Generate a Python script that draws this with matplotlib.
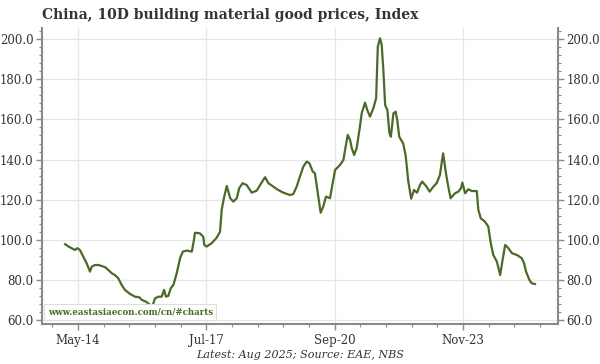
import matplotlib
matplotlib.use("Agg")
import matplotlib.pyplot as plt
import matplotlib.dates as mdates
import numpy as np
import pandas as pd

# 10-day index
dates = [
    "2014-01-05", "2014-02-05", "2014-03-05", "2014-04-04", "2014-04-25", "2014-05-18",
    "2014-06-17", "2014-07-18", "2014-08-17", "2014-09-02", "2014-10-01", "2014-11-01",
    "2014-12-01", "2015-01-01", "2015-01-30", "2015-03-01", "2015-03-30", "2015-04-29",
    "2015-05-29", "2015-06-28", "2015-08-13", "2015-09-27", "2015-11-05", "2015-11-27",
    "2016-01-05", "2016-02-10", "2016-02-25", "2016-03-25", "2016-04-24", "2016-05-24",
    "2016-06-15", "2016-07-02", "2016-07-23", "2016-08-14", "2016-09-07", "2016-10-07",
    "2016-11-06", "2016-12-01", "2017-01-06", "2017-02-20", "2017-03-11", "2017-03-20",
    "2017-05-04", "2017-06-03", "2017-06-12", "2017-07-03", "2017-08-18", "2017-10-02",
    "2017-11-01", "2017-11-16", "2017-12-07", "2018-01-01", "2018-02-01", "2018-03-01",
    "2018-04-01", "2018-04-23", "2018-05-23", "2018-06-29", "2018-08-14", "2018-09-28",
    "2018-10-28", "2018-12-12", "2019-01-11", "2019-02-25", "2019-04-10", "2019-05-25",
    "2019-07-24", "2019-08-23", "2019-09-23", "2019-10-22", "2019-11-22", "2019-12-22",
    "2020-01-15", "2020-02-15", "2020-03-05", "2020-04-05", "2020-04-26", "2020-05-19",
    "2020-06-13", "2020-07-19", "2020-08-18", "2020-09-03", "2020-10-18", "2020-11-17",
    "2020-12-02", "2020-12-26", "2021-01-16", "2021-02-01", "2021-02-22", "2021-03-16",
    "2021-04-15", "2021-05-01", "2021-05-31", "2021-06-20", "2021-07-15", "2021-08-14",
    "2021-09-08", "2021-09-23", "2021-10-13", "2021-10-28", "2021-11-12", "2021-11-28",
    "2021-12-18", "2022-01-06", "2022-01-19", "2022-02-11", "2022-03-03", "2022-03-17",
    "2022-04-04", "2022-05-10", "2022-06-01", "2022-06-25", "2022-07-21", "2022-08-15",
    "2022-09-12", "2022-10-08", "2022-10-28", "2022-12-02", "2023-01-03", "2023-02-06",
    "2023-03-07", "2023-04-06", "2023-04-21", "2023-05-05", "2023-05-30", "2023-06-20",
    "2023-07-11", "2023-08-20", "2023-09-19", "2023-10-13", "2023-10-25", "2023-11-19",
    "2023-12-18", "2024-01-18", "2024-03-03", "2024-03-17", "2024-04-08", "2024-05-16",
    "2024-06-15", "2024-07-07", "2024-07-30", "2024-08-31", "2024-09-30", "2024-10-24",
    "2024-11-14", "2024-12-13", "2025-01-14", "2025-02-28", "2025-04-12", "2025-05-03",
    "2025-05-21", "2025-06-20", "2025-07-11", "2025-08-10",
]
values = [
    97.8, 96.6, 95.8, 94.9, 95.8, 94.9,
    91.6, 88.3, 84.1, 86.6, 87.4, 87.4,
    86.9, 86.3, 84.9, 83.3, 82.4, 80.8,
    77.5, 75.0, 73.0, 71.6, 71.3, 70.0,
    69.1, 67.5, 65.8, 70.8, 71.6, 71.6,
    75.0, 71.6, 72.0, 75.8, 77.5, 83.3,
    90.8, 94.1, 94.6, 94.1, 99.9, 103.5,
    103.2, 101.5, 97.4, 96.6, 98.3, 101.0,
    104.0, 114.9, 121.0, 126.8, 120.7, 119.0,
    120.7, 125.7, 128.2, 127.3, 123.5, 124.5,
    127.3, 131.2, 128.2, 126.5, 124.8, 123.5,
    122.3, 122.8, 126.5, 131.5, 136.5, 139.0,
    138.2, 134.0, 133.2, 121.5, 113.5, 116.5,
    121.5, 120.7, 129.8, 134.8, 137.3, 139.8,
    144.8, 152.3, 149.8, 145.6, 142.3, 145.6,
    156.4, 163.1, 168.4, 164.7, 161.4, 165.6,
    170.6, 196.3, 200.5, 197.2, 184.7, 167.2,
    164.7, 153.1, 151.4, 163.1, 163.9, 159.8,
    151.4, 148.0, 142.0, 129.0, 120.5, 124.8,
    123.5, 127.3, 129.0, 126.8, 124.0, 126.5,
    128.2, 132.3, 138.2, 143.1, 133.2, 126.5,
    120.7, 123.2, 124.0, 125.7, 128.5, 123.2,
    125.2, 124.3, 124.3, 114.9, 110.7, 109.0,
    106.5, 98.3, 92.4, 89.1, 82.4, 90.8,
    97.4, 95.8, 93.3, 92.4, 90.8, 88.3,
    84.1, 80.0, 78.3, 77.9,
]
tick_dates = ["2014-05-01", "2017-07-01", "2020-09-01", "2023-11-01"]
tick_labels = ["May-14", "Jul-17", "Sep-20", "Nov-23"]

GREEN = "#4b6a27"
GREY = "#8a8a8a"
TEXT = "#333333"
SERIF = ["DejaVu Serif"]

x = pd.to_datetime(dates)
fig = plt.figure(figsize=(6, 3.64), dpi=100)
ax = fig.add_axes([0.0695, 0.11, 0.8605, 0.813])

ax.plot(x, values, color=GREEN, lw=1.6, zorder=3)

# x axis: majors every 38 months, five minor steps between
major = mdates.date2num(pd.to_datetime(tick_dates))
step = major[1] - major[0]
minor = np.arange(major[0] - step, major[-1] + step, step / 5)
ax.set_xticks(major)
ax.set_xticklabels(tick_labels)
ax.set_xticks(minor, minor=True)
ax.set_xlim(mdates.date2num(pd.Timestamp("2013-06-08")), mdates.date2num(pd.Timestamp("2026-03-05")))

ax.set_ylim(58.0, 205.6)
ax.set_yticks(np.arange(60, 201, 20))
ax.set_yticks(np.arange(60, 205, 4), minor=True)
ax.yaxis.set_major_formatter(matplotlib.ticker.FormatStrFormatter("%.1f"))

ax.grid(True, which="major", color="#e6e6e6", lw=0.9, zorder=0)
ax.spines["top"].set_visible(False)
for s in ["left", "right", "bottom"]:
    ax.spines[s].set_color(GREY)
    ax.spines[s].set_linewidth(1.5)

ax.tick_params(which="both", direction="out", color=GREY, left=True, right=True,
               labelleft=True, labelright=True, bottom=True)
ax.tick_params(which="major", length=4, width=1, labelsize=8.5, labelcolor=TEXT, pad=2)
ax.tick_params(which="minor", length=2.5, width=0.8)
ax.tick_params(axis="x", which="major", pad=3.5)
for lab in ax.get_xticklabels() + ax.get_yticklabels():
    lab.set_family(SERIF)

fig.text(0.07, 0.958, "China, 10D building material good prices, Index", fontsize=10,
         fontweight="bold", family=SERIF, color=TEXT, va="center", ha="left")
fig.text(0.5, 0.025, "Latest: Aug 2025; Source: EAE, NBS", fontsize=8, style="italic",
         family=SERIF, color=TEXT, ha="center", va="center")
ax.text(0.012, 0.025, "www.eastasiaecon.com/cn/#charts", transform=ax.transAxes, fontsize=6.2,
        fontweight="bold", family=SERIF, color=GREEN, ha="left", va="bottom", zorder=4,
        bbox=dict(boxstyle="square,pad=0.4", facecolor="white", edgecolor="#dddddd", lw=0.8))

fig.savefig("out.png", dpi=100)
